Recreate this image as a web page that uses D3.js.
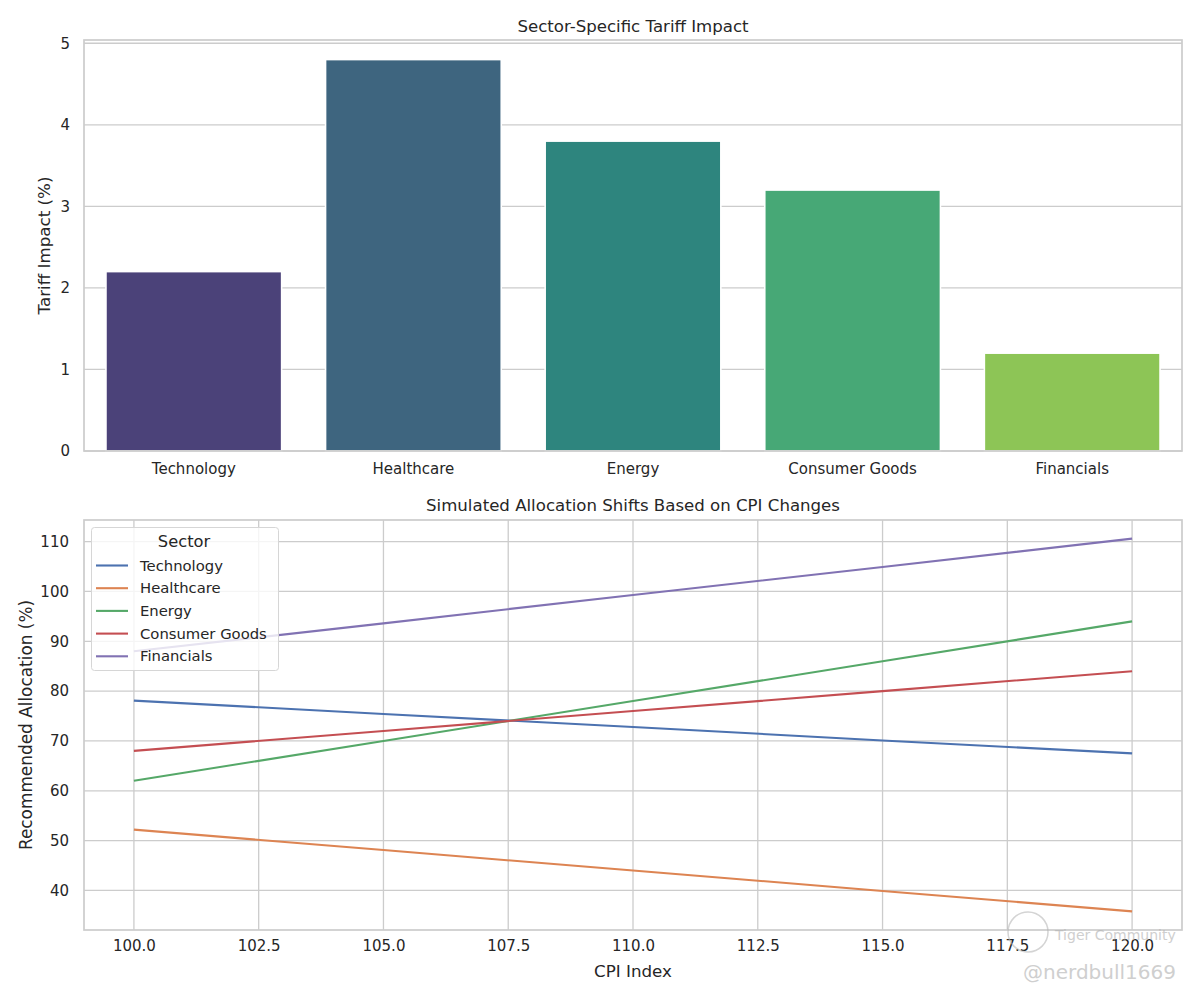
<!DOCTYPE html>
<html>
<head>
<meta charset="utf-8">
<script src="https://cdn.jsdelivr.net/npm/d3@7"></script>
<style>
  html, body { margin: 0; padding: 0; background: #fff; }
  svg { display: block; font-family: "DejaVu Sans", sans-serif; }
</style>
</head>
<body>
<svg id="chart" width="1200" height="1000"></svg>
<script>
// ---- data ----
const sectors = ["Technology", "Healthcare", "Energy", "Consumer Goods", "Financials"];
const tariffImpact = [2.2, 4.8, 3.8, 3.2, 1.2];
const barColors = ["#4b4279", "#3e657f", "#2e857e", "#47a876", "#8dc556"];
const tariffTicks = [0, 1, 2, 3, 4, 5];

const cpiIndex = [100, 105, 110, 115, 120];
const techAlloc = [78.1, 75.4, 72.8, 70.1, 67.5];
const healthAlloc = [52.2, 48.1, 44.0, 39.9, 35.8];
const energyAlloc = [62.0, 70.0, 78.0, 86.0, 94.0];
const consumerAlloc = [68.0, 72.0, 76.0, 80.0, 84.0];
const finAlloc = [88.0, 93.6, 99.3, 104.9, 110.6];
const lineColors = ["#4c72b0", "#dd8452", "#55a868", "#c44e52", "#8172b3"];
const cpiTicks = [100, 102.5, 105, 107.5, 110, 112.5, 115, 117.5, 120];
const allocTicks = [40, 50, 60, 70, 80, 90, 100, 110];

const series = [techAlloc, healthAlloc, energyAlloc, consumerAlloc, finAlloc];

const svg = d3.select("#chart");
const textColor = "#262626";
const gridColor = "#cccccc";

// ---------- top chart ----------
const t = {left: 84, right: 1182, top: 40, bottom: 451};
const xb = d3.scaleBand().domain(sectors).range([t.left, t.right]).paddingInner(0.2).paddingOuter(0.1);
const yb = d3.scaleLinear().domain([0, d3.max(tariffImpact) * 1.05]).range([t.bottom, t.top]);

const gTop = svg.append("g");
gTop.append("g").selectAll("line").data(tariffTicks).join("line")
  .attr("x1", t.left).attr("x2", t.right)
  .attr("y1", d => yb(d)).attr("y2", d => yb(d))
  .attr("stroke", gridColor).attr("stroke-width", 1.3);
gTop.append("g").selectAll("rect").data(sectors).join("rect")
  .attr("x", d => xb(d)).attr("width", xb.bandwidth())
  .attr("y", (d, i) => yb(tariffImpact[i]))
  .attr("height", (d, i) => yb(0) - yb(tariffImpact[i]))
  .attr("fill", (d, i) => barColors[i])
  .attr("stroke", "#ffffff").attr("stroke-width", 1.6);
gTop.append("rect").attr("x", t.left).attr("y", t.top)
  .attr("width", t.right - t.left).attr("height", t.bottom - t.top)
  .attr("fill", "none").attr("stroke", gridColor).attr("stroke-width", 1.7);
const yAxTop = d3.axisLeft(yb).tickValues(tariffTicks).tickSize(0).tickPadding(14).tickFormat(d3.format("d"));
gTop.append("g").attr("transform", `translate(${t.left},0)`).call(yAxTop)
  .call(g => g.select(".domain").remove())
  .call(g => g.selectAll("text").attr("fill", textColor).attr("font-size", 15).attr("font-family", "DejaVu Sans"));
const xAxTop = d3.axisBottom(xb).tickSize(0).tickPadding(12);
gTop.append("g").attr("transform", `translate(0,${t.bottom})`).call(xAxTop)
  .call(g => g.select(".domain").remove())
  .call(g => g.selectAll("text").attr("fill", textColor).attr("font-size", 15).attr("font-family", "DejaVu Sans"));
gTop.append("text").attr("x", (t.left + t.right) / 2).attr("y", 32)
  .attr("text-anchor", "middle").attr("fill", textColor).attr("font-size", 16.6)
  .text("Sector-Specific Tariff Impact");
gTop.append("text").attr("transform", `translate(50,${(t.top + t.bottom) / 2}) rotate(-90)`)
  .attr("text-anchor", "middle").attr("fill", textColor).attr("font-size", 16.7)
  .text("Tariff Impact (%)");

// ---------- bottom chart ----------
const b = {left: 84, right: 1182, top: 520, bottom: 930};
const xl = d3.scaleLinear().domain([99, 121]).range([b.left, b.right]);
const yMin = d3.min(series.flat()), yMax = d3.max(series.flat());
const yPad = (yMax - yMin) * 0.05;
const yl = d3.scaleLinear().domain([yMin - yPad, yMax + yPad]).range([b.bottom, b.top]);

const gBot = svg.append("g");
gBot.append("g").selectAll("line").data(allocTicks).join("line")
  .attr("x1", b.left).attr("x2", b.right)
  .attr("y1", d => yl(d)).attr("y2", d => yl(d))
  .attr("stroke", gridColor).attr("stroke-width", 1.3);
gBot.append("g").selectAll("line").data(cpiTicks).join("line")
  .attr("y1", b.top).attr("y2", b.bottom)
  .attr("x1", d => xl(d)).attr("x2", d => xl(d))
  .attr("stroke", gridColor).attr("stroke-width", 1.3);
gBot.append("rect").attr("x", b.left).attr("y", b.top)
  .attr("width", b.right - b.left).attr("height", b.bottom - b.top)
  .attr("fill", "none").attr("stroke", gridColor).attr("stroke-width", 1.7);

const line = d3.line().x((d, i) => xl(cpiIndex[i])).y(d => yl(d));
gBot.append("g").selectAll("path").data(series).join("path")
  .attr("d", d => line(d)).attr("fill", "none")
  .attr("stroke", (d, i) => lineColors[i]).attr("stroke-width", 2.1);

const yAxBot = d3.axisLeft(yl).tickValues(allocTicks).tickSize(0).tickPadding(15).tickFormat(d3.format("d"));
gBot.append("g").attr("transform", `translate(${b.left},0)`).call(yAxBot)
  .call(g => g.select(".domain").remove())
  .call(g => g.selectAll("text").attr("fill", textColor).attr("font-size", 15).attr("font-family", "DejaVu Sans"));
const xAxBot = d3.axisBottom(xl).tickValues(cpiTicks).tickSize(0).tickPadding(10).tickFormat(d3.format(".1f"));
gBot.append("g").attr("transform", `translate(0,${b.bottom})`).call(xAxBot)
  .call(g => g.select(".domain").remove())
  .call(g => g.selectAll("text").attr("fill", textColor).attr("font-size", 15).attr("font-family", "DejaVu Sans"));

gBot.append("text").attr("x", (b.left + b.right) / 2).attr("y", 511)
  .attr("text-anchor", "middle").attr("fill", textColor).attr("font-size", 16.6)
  .text("Simulated Allocation Shifts Based on CPI Changes");
gBot.append("text").attr("x", (b.left + b.right) / 2).attr("y", 977)
  .attr("text-anchor", "middle").attr("fill", textColor).attr("font-size", 16.7)
  .text("CPI Index");
gBot.append("text").attr("transform", `translate(32,${(b.top + b.bottom) / 2}) rotate(-90)`)
  .attr("text-anchor", "middle").attr("fill", textColor).attr("font-size", 16.9)
  .text("Recommended Allocation (%)");

// legend
const lg = gBot.append("g");
lg.append("rect").attr("x", 91.5).attr("y", 527.5).attr("width", 187).attr("height", 143)
  .attr("rx", 3).attr("fill", "#ffffff").attr("fill-opacity", 0.8)
  .attr("stroke", "#d6d6d6").attr("stroke-width", 1);
lg.append("text").attr("x", 184).attr("y", 547).attr("text-anchor", "middle")
  .attr("fill", textColor).attr("font-size", 16.3).text("Sector");
sectors.forEach((s, i) => {
  const yy = 565.5 + i * 22.7;
  lg.append("line").attr("x1", 96).attr("x2", 128).attr("y1", yy).attr("y2", yy)
    .attr("stroke", lineColors[i]).attr("stroke-width", 2.1);
  lg.append("text").attr("x", 140).attr("y", yy + 5).attr("fill", textColor)
    .attr("font-size", 14.8).text(s);
});

// watermark
const wm = svg.append("g").attr("opacity", 0.6);
wm.append("circle").attr("cx", 1028).attr("cy", 932).attr("r", 20)
  .attr("fill", "none").attr("stroke", "#b8b8b8").attr("stroke-width", 1.5);
wm.append("text").attr("x", 1055).attr("y", 940).attr("fill", "#b0b0b0")
  .attr("font-size", 14).text("Tiger Community");
wm.append("text").attr("x", 1176).attr("y", 979).attr("text-anchor", "end").attr("fill", "#b0b0b0")
  .attr("font-size", 20).text("@nerdbull1669");
</script>
</body>
</html>
